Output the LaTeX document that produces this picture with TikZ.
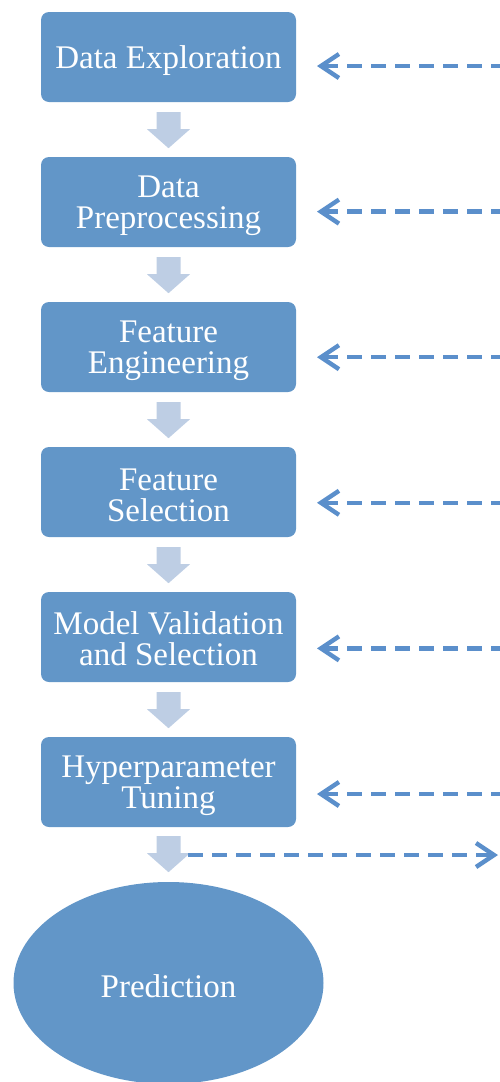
\documentclass[tikz,border=0pt]{standalone}
\usepackage{fontspec}
\setmainfont{Liberation Serif}
\usetikzlibrary{shapes.geometric,arrows.meta}
\definecolor{boxblue}{RGB}{98,150,200}
\definecolor{flowgray}{RGB}{190,206,228}
\definecolor{linkblue}{RGB}{91,143,203}
\begin{document}
\begin{tikzpicture}[x=1pt,y=-1pt,
  stage/.style={rectangle, rounded corners=8pt, fill=boxblue,
    minimum width=255pt, minimum height=90pt, inner sep=0pt},
  caption/.style={text=white, align=center, inner sep=0pt,
    font=\fontsize{33}{31}\selectfont},
  outcome/.style={ellipse, fill=boxblue, minimum width=310pt,
    minimum height=202pt, inner sep=0pt},
  feedback/.style={draw=linkblue, line width=4.4pt, dash pattern=on 15pt off 9pt},
  flowarrow/.pic={\fill[flowgray] (-12,0) -- (12,0) -- (12,17) -- (21.5,17)
    -- (0,36) -- (-21.5,17) -- (-12,17) -- cycle;}]
\useasboundingbox (0,0) rectangle (499,1082);

% pipeline stages
\node[stage] (s1) at (168.5,57)  {};
\node[stage] (s2) at (168.5,202) {};
\node[stage] (s3) at (168.5,347) {};
\node[stage] (s4) at (168.5,492) {};
\node[stage] (s5) at (168.5,637) {};
\node[stage] (s6) at (168.5,782) {};
\node[outcome] (pred) at (168.5,983) {};

% stage labels
\node[caption] (t1) at ([yshift=-3.5pt]s1.center) {Data Exploration};
\node[caption] (t2) at ([yshift=-3.5pt]s2.center) {Data\\Preprocessing};
\node[caption] (t3) at ([yshift=-3.5pt]s3.center) {Feature\\Engineering};
\node[caption] (t4) at ([yshift=-3.5pt]s4.center) {Feature\\Selection};
\node[caption] (t5) at ([yshift=-2pt]s5.center) {Model Validation\\and Selection};
\node[caption] (t6) at ([yshift=-3.5pt]s6.center) {Hyperparameter\\Tuning};
\node[caption] (tp) at ([yshift=-3pt]pred.center) {Prediction};

% block arrows between stages
\foreach \k in {1,...,5}{
  \pic at ([yshift=-10pt]s\k.south) {flowarrow};
}
\pic at ([yshift=-9pt]s6.south) {flowarrow};

% dashed feedback links coming in from the right
\foreach \k in {1,...,6}{
  \pgfmathsetmacro{\yy}{66+145.6*(\k-1)}
  \coordinate (in\k) at (317,\yy);
  \coordinate (edge\k) at (505,\yy);
  \draw[feedback, {Straight Barb[length=18pt, width=24pt]}-] (in\k) -- (edge\k);
}

% dashed link leaving after the last stage
\coordinate (fork) at (188,855);
\coordinate (out) at (498,855);
\draw[feedback, -{Straight Barb[length=18pt, width=24pt]}] (fork) -- (out);
\end{tikzpicture}
\end{document}
